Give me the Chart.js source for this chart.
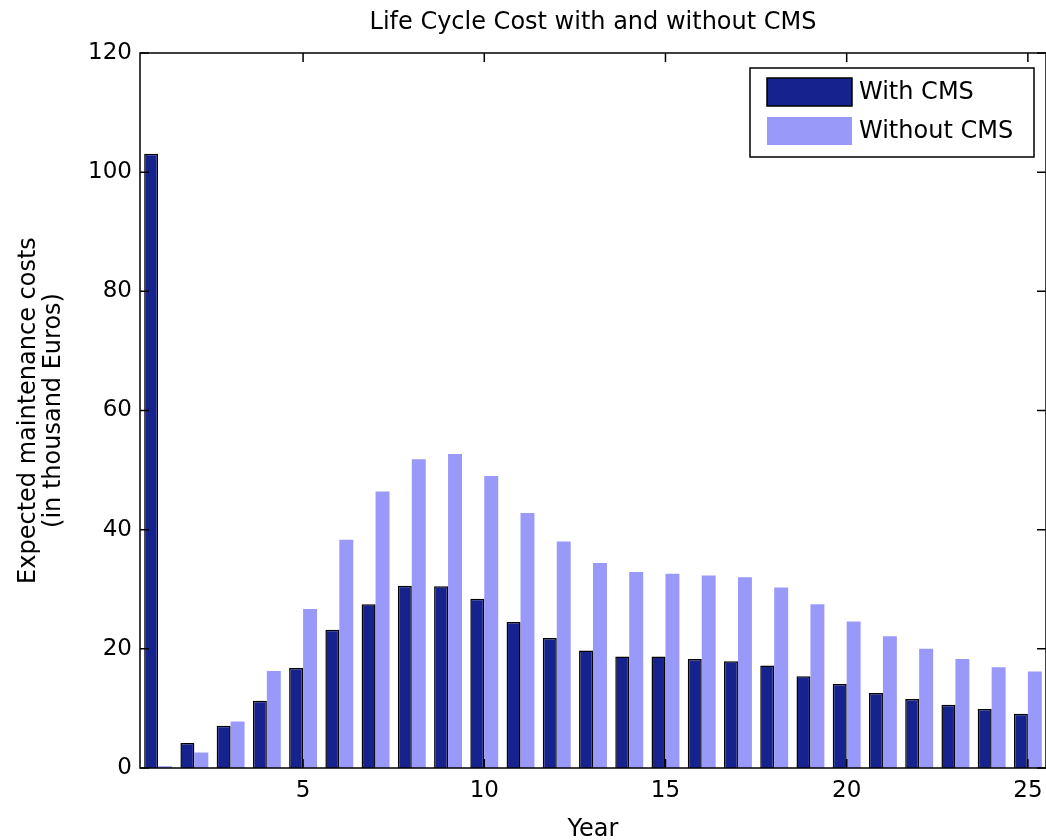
<!DOCTYPE html>
<html>
<head>
<meta charset="utf-8">
<title>Life Cycle Cost with and without CMS</title>
<script src="https://cdn.jsdelivr.net/npm/chart.js@4/dist/chart.umd.min.js"></script>
<style>
  html, body { margin: 0; padding: 0; background: #fff; overflow: hidden; }
  #wrap { position: relative; width: 1046px; height: 860px; }
</style>
</head>
<body>
<div id="wrap"><canvas id="lcc"></canvas></div>
<script>
// data (thousand Euros per year)
const years = [1, 2, 3, 4, 5, 6, 7, 8, 9, 10, 11, 12, 13, 14, 15, 16, 17, 18, 19, 20, 21, 22, 23, 24, 25];
const withCms = [103.1, 4.2, 7.1, 11.3, 16.8, 23.2, 27.5, 30.6, 30.5, 28.4, 24.5, 21.8, 19.7, 18.7, 18.7, 18.3, 17.9, 17.2, 15.4, 14.1, 12.6, 11.6, 10.6, 9.9, 9.1];
const withoutCms = [0.3, 2.6, 7.8, 16.3, 26.7, 38.3, 46.4, 51.8, 52.7, 49.0, 42.8, 38.0, 34.4, 32.9, 32.6, 32.3, 32.0, 30.3, 27.5, 24.6, 22.1, 20.0, 18.3, 16.9, 16.2];
const xTickLabels = ["5", "10", "15", "20", "25"];
const yTickValues = [0, 20, 40, 60, 80, 100, 120];

const DARK = "#16238f";
const LIGHT = "#9999fa";

Chart.defaults.font.family = "'DejaVu Sans', sans-serif";
Chart.defaults.color = "#000";

// matlab style box with inward ticks on every side
const framePlugin = {
  id: "frame",
  afterDatasetsDraw(chart) {
    const { ctx, chartArea: a, scales } = chart;
    const tl = 9;
    ctx.save();
    ctx.strokeStyle = "#000";
    ctx.lineWidth = 1.5;
    ctx.strokeRect(a.left, a.top, a.right - a.left, a.bottom - a.top);
    ctx.beginPath();
    yTickValues.forEach(v => {
      const py = scales.y.getPixelForValue(v);
      ctx.moveTo(a.left, py); ctx.lineTo(a.left + tl, py);
      ctx.moveTo(a.right, py); ctx.lineTo(a.right - tl, py);
    });
    years.forEach((yr, i) => {
      if (!xTickLabels.includes(String(yr))) return;
      const px = scales.x.getPixelForValue(i);
      ctx.moveTo(px, a.bottom); ctx.lineTo(px, a.bottom - tl);
      ctx.moveTo(px, a.top); ctx.lineTo(px, a.top + tl);
    });
    ctx.stroke();
    ctx.restore();
  }
};

// boxed legend in the upper right corner of the axes
const boxLegend = {
  id: "boxLegend",
  afterDraw(chart) {
    const { ctx, chartArea: a } = chart;
    const w = 284, h = 89;
    const x0 = a.right - 12 - w, y0 = a.top + 15;
    ctx.save();
    ctx.fillStyle = "#fff";
    ctx.fillRect(x0, y0, w, h);
    ctx.strokeStyle = "#000";
    ctx.lineWidth = 1.5;
    ctx.strokeRect(x0, y0, w, h);
    ctx.font = "24px 'DejaVu Sans', sans-serif";
    ctx.textBaseline = "middle";
    chart.data.datasets.forEach((ds, i) => {
      const sy = y0 + 10 + i * 39;
      ctx.fillStyle = ds.backgroundColor;
      ctx.fillRect(x0 + 17, sy, 85, 28);
      if (ds.borderWidth) {
        ctx.strokeStyle = ds.borderColor;
        ctx.lineWidth = 1.5;
        ctx.strokeRect(x0 + 17, sy, 85, 28);
      }
      ctx.fillStyle = "#000";
      ctx.fillText(ds.label, x0 + 109, sy + 15);
    });
    ctx.restore();
  }
};

new Chart(document.getElementById("lcc").getContext("2d"), {
  type: "bar",
  data: {
    labels: years.map(String),
    datasets: [
      {
        label: "With CMS",
        data: withCms,
        backgroundColor: DARK,
        borderColor: "#000",
        borderWidth: 1.5,
        categoryPercentage: 0.77,
        barPercentage: 1.0
      },
      {
        label: "Without CMS",
        data: withoutCms,
        backgroundColor: LIGHT,
        borderWidth: 0,
        categoryPercentage: 0.77,
        barPercentage: 1.0
      }
    ]
  },
  options: {
    responsive: true,
    maintainAspectRatio: false,
    animation: false,
    layout: { padding: { left: 0, top: 0, bottom: 0, right: -3 } },
    plugins: {
      legend: { display: false },
      tooltip: { enabled: false },
      title: {
        display: true,
        fullSize: false,
        text: "Life Cycle Cost with and without CMS",
        font: { size: 24, weight: "normal" },
        padding: { top: 8, bottom: 16.2 }
      }
    },
    scales: {
      x: {
        grid: { display: false, drawTicks: false },
        border: { display: false },
        ticks: {
          autoSkip: false,
          maxRotation: 0,
          padding: 9,
          font: { size: 23 },
          callback: (v, i) => xTickLabels.includes(String(years[i])) ? String(years[i]) : ""
        },
        title: {
          display: true,
          text: "Year",
          font: { size: 24 },
          padding: { top: 0, bottom: 16 }
        },
        afterFit: s => { s.height = 92; s.paddingLeft = 0; s.paddingRight = 0; }
      },
      y: {
        min: 0,
        max: 120,
        grid: { display: false, drawTicks: false },
        border: { display: false },
        ticks: { stepSize: 20, padding: 8, font: { size: 23 } },
        title: {
          display: true,
          text: ["Expected maintenance costs", "(in thousand Euros)"],
          font: { size: 24, lineHeight: 1.05 },
          padding: { top: 16, bottom: 0 }
        },
        afterFit: s => { s.width = 140; }
      }
    }
  },
  plugins: [framePlugin, boxLegend]
});
</script>
</body>
</html>
